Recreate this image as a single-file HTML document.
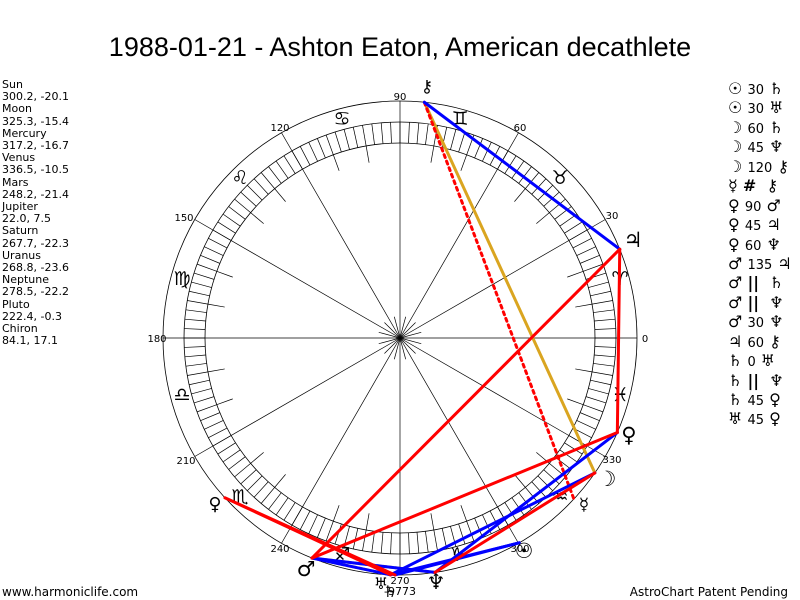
<!DOCTYPE html>
<html><head><meta charset="utf-8"><style>
body{margin:0;background:#fff;width:800px;height:600px;overflow:hidden;font-family:"Liberation Sans","DejaVu Sans",sans-serif}
svg{position:absolute;left:0;top:0}
.l{position:absolute;left:2px;top:79px;font-size:11px;line-height:12.2px;color:#000;font-family:"DejaVu Sans","Liberation Sans",sans-serif}
.r{position:absolute;left:728px;top:79px;font-size:16px;font-family:"DejaVu Sans",sans-serif;white-space:pre}
.r div{height:19.45px;line-height:19px;overflow:visible}
.r small{font-size:13px}
</style></head><body>
<svg width="800" height="600" viewBox="0 0 800 600" font-family="DejaVu Sans, sans-serif">
<text x="400" y="56" font-size="27" text-anchor="middle" font-family="Liberation Sans, sans-serif">1988-01-21 - Ashton Eaton, American decathlete</text>
<g id="g" stroke="#000" fill="none" stroke-width="0.8">
<circle cx="400" cy="338" r="237"/>
<circle cx="400" cy="338" r="216"/>
<circle cx="400" cy="338" r="195"/>
</g>
<g font-size="10" fill="#000" text-anchor="middle">
<text x="645" y="342">0</text><text x="612" y="219">30</text><text x="520" y="131">60</text><text x="400" y="100">90</text>
<text x="280" y="131">120</text><text x="184" y="221">150</text><text x="157" y="342">180</text><text x="186" y="464">210</text>
<text x="280" y="552">240</text><text x="400" y="584">270</text><text x="520" y="552">300</text><text x="612" y="463">330</text>
<text x="400" y="595" font-size="11">-9773</text>
</g>
<g font-size="19" fill="#000" text-anchor="middle" font-family="DejaVu Sans, sans-serif">
<text x="620" y="285">♈</text><text x="560" y="184">♉</text><text x="460" y="125">♊</text><text x="342" y="125">♋</text>
<text x="240" y="184">♌</text><text x="182" y="285">♍</text><text x="182" y="401">♎</text><text x="240" y="503">♏</text>
<text x="342" y="561">♐</text><text x="458" y="561">♑</text><text x="560" y="503">♒</text><text x="620" y="401">♓</text>
</g>
<g id="lines" stroke-width="3" fill="none" stroke-linecap="round"></g>
<g font-size="21" fill="#000" text-anchor="middle">
<text x="427" y="92" font-size="17">⚷</text><text x="633" y="247">♃</text><text x="629" y="442">♀</text>
<text x="607" y="486">☽</text><text x="584" y="510" font-size="17">☿</text><text x="524" y="558">☉</text>
<text x="436" y="589">♆</text><text x="306" y="576">♂</text><text x="215" y="510" font-size="18">♀</text>
<text x="381" y="589" font-size="16">♅</text><text x="390" y="597" font-size="16">♄</text>
</g>
<text x="2" y="596" font-size="12">www.harmoniclife.com</text>
<text x="788" y="596" font-size="12" text-anchor="end">AstroChart Patent Pending</text>
</svg>
<div class="l">Sun<br>300.2, -20.1<br>Moon<br>325.3, -15.4<br>Mercury<br>317.2, -16.7<br>Venus<br>336.5, -10.5<br>Mars<br>248.2, -21.4<br>Jupiter<br>22.0, 7.5<br>Saturn<br>267.7, -22.3<br>Uranus<br>268.8, -23.6<br>Neptune<br>278.5, -22.2<br>Pluto<br>222.4, -0.3<br>Chiron<br>84.1, 17.1</div>
<div class="r"><div>☉ <small>30</small> ♄</div><div>☉ <small>30</small> ♅</div><div>☽ <small>60</small> ♄</div><div>☽ <small>45</small> ♆</div><div>☽ <small>120</small> ⚷</div><div>☿ <b>#</b>  ⚷</div><div>♀ <small>90</small> ♂</div><div>♀ <small>45</small> ♃</div><div>♀ <small>60</small> ♆</div><div>♂ <small>135</small> ♃</div><div>♂ <b>||</b>  ♄</div><div>♂ <b>||</b>  ♆</div><div>♂ <small>30</small> ♆</div><div>♃ <small>60</small> ⚷</div><div>♄ <small>0</small> ♅</div><div>♄ <b>||</b>  ♆</div><div>♄ <small>45</small> ♀</div><div>♅ <small>45</small> ♀</div></div>
<script>
var NS="http://www.w3.org/2000/svg",g=document.getElementById("g"),L=document.getElementById("lines");
function ln(p,x1,y1,x2,y2,c,w,d){var e=document.createElementNS(NS,"line");e.setAttribute("x1",x1);e.setAttribute("y1",y1);e.setAttribute("x2",x2);e.setAttribute("y2",y2);e.setAttribute("stroke",c);if(w)e.setAttribute("stroke-width",w);if(d)e.setAttribute("stroke-dasharray",d);p.appendChild(e);}
var cx=400,cy=338;
function P(a,r){a=a*Math.PI/180;return[cx+r*Math.cos(a),cy-r*Math.sin(a)];}
for(var a=0;a<360;a+=2.5){var p=P(a,195),q=P(a,216);ln(g,p[0],p[1],q[0],q[1],"#000",0.7);}
for(var a=0;a<360;a+=10){if(a%30==0)continue;var p=P(a,178),q=P(a,195);ln(g,p[0],p[1],q[0],q[1],"#000",0.7);}
for(var a=0;a<360;a+=30){var q=P(a,237);ln(g,cx,cy,q[0],q[1],"#000",0.7);}
for(var a=15;a<360;a+=30){var q=P(a,22);ln(g,cx,cy,q[0],q[1],"#000",0.7);}
var pl={su:300.2,mo:325.3,me:317.2,ve:336.5,ma:248.2,ju:22,sa:267.7,ur:268.8,ne:278.5,pl:222.4,ch:84.1};
function A(a,b,c,d){var p=P(pl[a],237),q=P(pl[b],237);ln(L,p[0],p[1],q[0],q[1],c,3,d);}
A("ch","mo","#daa520");
A("ch","me","#f00");L.lastChild.setAttribute("stroke-dasharray","3 4");
A("ma","sa","#daa520");L.lastChild.setAttribute("stroke-dasharray","3 3");
A("ma","ne","#daa520");L.lastChild.setAttribute("stroke-dasharray","3 3");
A("ch","ju","#00f");A("su","sa","#00f");A("su","ur","#00f");A("mo","sa","#00f");A("ve","ne","#00f");A("ma","ne","#00f");A("ma","sa","#00f");
A("ju","ve","#f00");A("ju","ma","#f00");A("ve","ma","#f00");A("mo","ne","#f00");A("pl","sa","#f00");A("pl","ur","#f00");
</script>
</body></html>
